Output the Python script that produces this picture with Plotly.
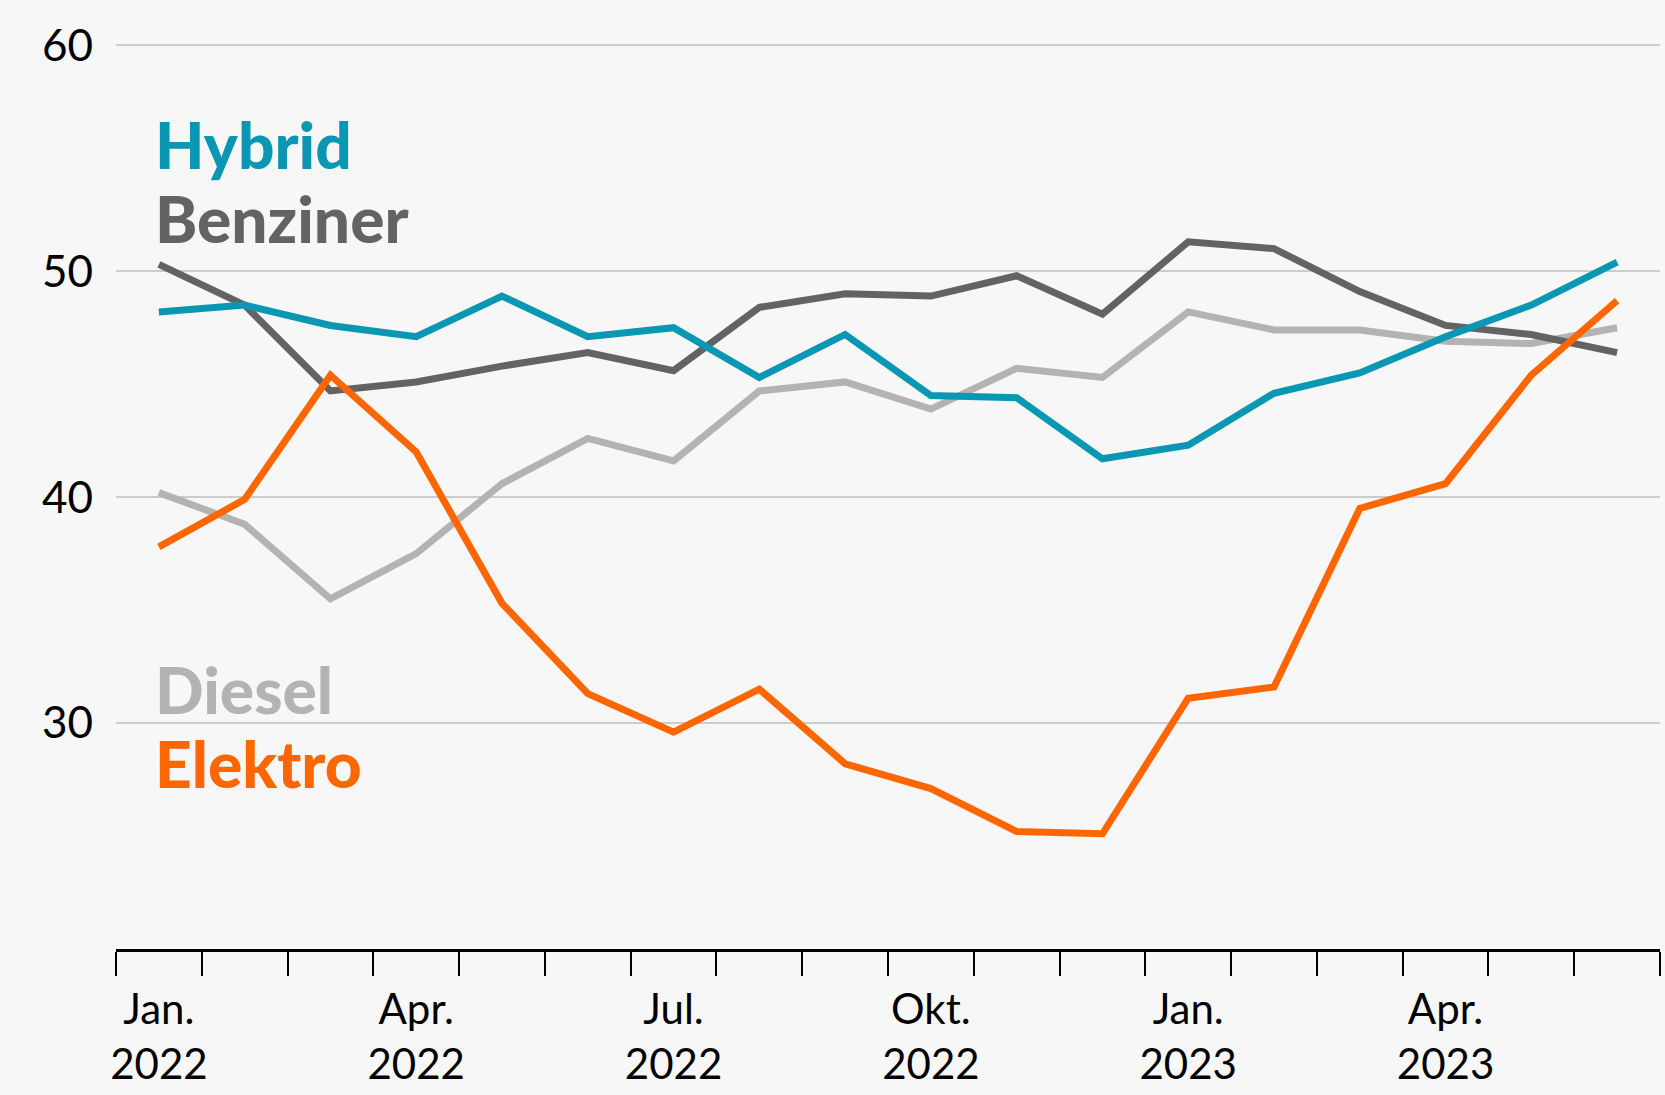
import plotly.graph_objects as go

months = [
    "2022-01", "2022-02", "2022-03", "2022-04", "2022-05", "2022-06",
    "2022-07", "2022-08", "2022-09", "2022-10", "2022-11", "2022-12",
    "2023-01", "2023-02", "2023-03", "2023-04", "2023-05", "2023-06",
]
month_labels = [
    "Jan.<br>2022", "", "", "Apr.<br>2022", "", "", "Jul.<br>2022", "", "",
    "Okt.<br>2022", "", "", "Jan.<br>2023", "", "", "Apr.<br>2023", "", "",
]

hybrid = [48.2, 48.5, 47.6, 47.1, 48.9, 47.1, 47.5, 45.3, 47.2, 44.5, 44.4, 41.7,
          42.3, 44.6, 45.5, 47.1, 48.5, 50.4]
benziner = [50.3, 48.5, 44.7, 45.1, 45.8, 46.4, 45.6, 48.4, 49.0, 48.9, 49.8, 48.1,
            51.3, 51.0, 49.1, 47.6, 47.2, 46.4]
diesel = [40.2, 38.8, 35.5, 37.5, 40.6, 42.6, 41.6, 44.7, 45.1, 43.9, 45.7, 45.3,
          48.2, 47.4, 47.4, 46.9, 46.8, 47.5]
elektro = [37.8, 39.9, 45.4, 42.0, 35.3, 31.3, 29.6, 31.5, 28.2, 27.1, 25.2, 25.1,
           31.1, 31.6, 39.5, 40.6, 45.4, 48.7]

series = [
    ("Diesel", diesel, "#b3b3b3", 31.5),
    ("Benziner", benziner, "#636363", 52.35),
    ("Hybrid", hybrid, "#0a97b3", 55.6),
    ("Elektro", elektro, "#ff6600", 28.2),
]

FONT = "Lato"

fig = go.Figure()

for name, values, color, label_y in series:
    fig.add_trace(
        go.Scatter(
            x=months,
            y=values,
            mode="lines",
            name=name,
            line=dict(color=color, width=7),
        )
    )
    # series label on the left side of the chart
    fig.add_annotation(
        x=0,
        y=label_y,
        xref="x",
        yref="y",
        text=name,
        showarrow=False,
        xanchor="left",
        yanchor="middle",
        xshift=-6,
        font=dict(family=FONT, size=64, color=color, weight=900),
    )

fig.update_layout(
    width=1665,
    height=1095,
    showlegend=False,
    plot_bgcolor="#f7f7f7",
    paper_bgcolor="#f7f7f7",
    margin=dict(l=116, r=5, t=34, b=146, autoexpand=False),
    font=dict(family=FONT, size=42, color="#000000"),
    xaxis=dict(
        type="category",
        categoryorder="array",
        categoryarray=months,
        range=[-0.5, 17.5],
        tickvals=months,
        ticktext=month_labels,
        tickangle=0,
        tickson="boundaries",
        ticks="outside",
        ticklen=24,
        tickwidth=2,
        tickcolor="#000000",
        showline=True,
        linecolor="#000000",
        linewidth=2.5,
        showgrid=False,
        zeroline=False,
        automargin=False,
        ticklabelstandoff=22,
        tickfont=dict(family=FONT, size=42, color="#000000"),
    ),
    yaxis=dict(
        range=[20, 60.5],
        tickvals=[30, 40, 50, 60],
        showgrid=True,
        gridcolor="#cccccc",
        gridwidth=2,
        zeroline=False,
        showline=False,
        ticks="",
        ticklabelstandoff=22,
        automargin=False,
        tickfont=dict(family=FONT, size=44, color="#000000"),
    ),
)

# drop the default page margin so the figure sits at the window's corner
fig.write_html(
    "out.html",
    config={"displayModeBar": False},
    post_script="document.body.style.margin='0';document.body.style.background='#f7f7f7';",
)
